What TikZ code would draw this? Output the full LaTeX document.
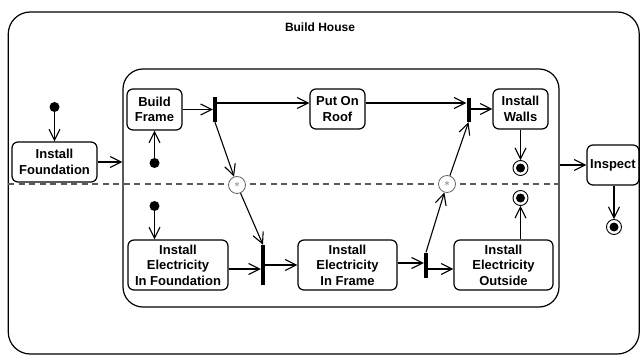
\documentclass[tikz,border=0pt]{standalone}
\usepackage{fontspec}
\setmainfont{Liberation Sans}
\usetikzlibrary{arrows.meta}
\begin{document}
\begin{tikzpicture}[x=1pt,y=-1pt,
  act/.style={draw, rounded corners=6pt, line width=1.2pt, align=center,
    font=\bfseries\fontsize{13}{15.5}\selectfont, inner sep=0pt},
  frame/.style={draw, line width=1.2pt, inner sep=0pt},
  arr/.style={line width=1.1pt, -{Straight Barb[length=11pt,width=11pt,line width=1.1pt]}},
  startdot/.style={circle, fill, minimum size=10pt, inner sep=0pt},
  enddot/.style={circle, draw, line width=0.9pt, minimum size=15pt, inner sep=0pt,
    path picture={\fill (path picture bounding box.center) circle (4.5pt);}},
  bar/.style={rectangle, fill, minimum width=4pt, inner sep=0pt},
  conc/.style={circle, draw=gray!80!black, fill=white, line width=0.8pt, minimum size=17pt,
    inner sep=0pt, text=gray!70!black, font=\fontsize{11}{11}\selectfont},
  lane/.style={draw=gray!70!black, line width=1.2pt, dash pattern=on 6pt off 4.5pt}]
\useasboundingbox (0,0) rectangle (641,356);

% enclosing activity
\node[frame, rounded corners=22pt, minimum width=631pt, minimum height=342pt] (house) at (323.75,183) {};
\node[font=\bfseries\fontsize{12}{14}\selectfont] (title) at (320,27) {Build House};

% structured region with two partitions
\node[frame, rounded corners=20pt, minimum width=436pt, minimum height=238pt] (region) at (341,188) {};
\coordinate (laneL) at (8,184);
\coordinate (laneR) at (559,184);
\draw[lane] (laneL) -- (laneR);

% actions
\node[act, minimum width=85pt, minimum height=40pt] (found) at (54.5,162) {Install\\Foundation};
\node[act, minimum width=55pt, minimum height=41pt] (bframe) at (154.5,109.5) {Build\\Frame};
\node[act, minimum width=55pt, minimum height=40pt] (roof) at (337.5,109) {Put On\\Roof};
\node[act, minimum width=55pt, minimum height=40pt] (walls) at (520.5,109) {Install\\Walls};
\node[act, minimum width=52pt, minimum height=40pt] (inspect) at (613,165) {Inspect};
\node[act, minimum width=100pt, minimum height=50pt] (elecF) at (178,265) {Install\\Electricity\\In Foundation};
\node[act, minimum width=99pt, minimum height=50pt] (elecFr) at (347.5,265) {Install\\Electricity\\In Frame};
\node[act, minimum width=99pt, minimum height=50pt] (elecO) at (503.5,265) {Install\\Electricity\\Outside};

% initial and final nodes
\node[startdot] (s0) at (54.5,107) {};
\node[startdot] (s1) at (154.5,163) {};
\node[startdot] (s2) at (154.5,206) {};
\node[enddot] (f1) at (520.5,168) {};
\node[enddot] (f2) at (520.5,198) {};
\node[enddot] (f3) at (614,227) {};

% fork / join bars
\node[bar, minimum height=25pt] (b1) at (215,109.5) {};
\node[bar, minimum height=24pt] (b2) at (468.5,110) {};
\node[bar, minimum height=40pt] (b3) at (263,265) {};
\node[bar, minimum height=25pt] (b4) at (426,265) {};

% partition crossings
\node[conc] (c1) at (237,185) {$\ast$};
\node[conc] (c2) at (447,184) {$\ast$};

% flows
\draw[arr] (s0) -- (s0 |- found.north);
\draw[arr] (found.east) -- (found.east -| region.west);
\draw[arr] (s1) -- (s1 |- bframe.south);
\draw[arr] (bframe.east) -- (b1.west |- bframe.east);
\coordinate (roofin) at ([yshift=6pt]roof.west);
\draw[arr] (b1.east |- roofin) -- (roofin);
\coordinate (roofout) at ([yshift=6pt]roof.east);
\draw[arr] (roofout) -- (b2.west |- roofout);
\draw[arr] (b2.east |- walls.west) -- (walls.west);
\draw[arr] (walls.south -| f1) -- (f1);
\draw[arr] (b1.south) -- (c1);
\draw[arr] (c1) -- (b3.north);
\draw[arr] (s2) -- (s2 |- elecF.north);
\coordinate (efout) at ([yshift=-4pt]elecF.east);
\draw[arr] (efout) -- (b3.west |- efout);
\draw[arr] (b3.east |- elecFr.west) -- (elecFr.west);
\coordinate (frout) at ([yshift=2pt]elecFr.east);
\draw[arr] (frout) -- (b4.west |- frout);
\coordinate (oin) at ([yshift=-4pt]elecO.west);
\draw[arr] (b4.east |- oin) -- (oin);
\draw[arr] (b4.north) -- (c2);
\draw[arr] (c2) -- (b2.south);
\draw[arr] (elecO.north -| f2) -- (f2);
\draw[arr] (region.east |- inspect.west) -- (inspect.west);
\draw[arr] (inspect.south -| f3) -- (f3);
\end{tikzpicture}
\end{document}
